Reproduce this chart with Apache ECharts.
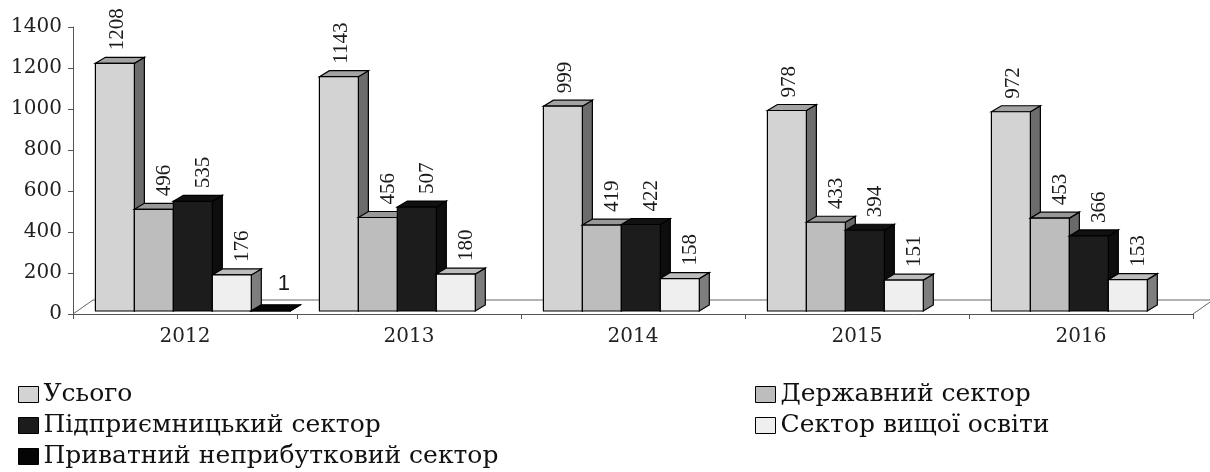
<!DOCTYPE html>
<html>
<head>
<meta charset="utf-8">
<script src="https://cdn.jsdelivr.net/npm/echarts@6/dist/echarts.min.js"></script>
<style>
  html, body { margin: 0; padding: 0; background: #fff; }
  #chart { width: 1210px; height: 472px; }
</style>
</head>
<body>
<div id="chart"></div>
<script>
// categories (years)
var years = ['2012', '2013', '2014', '2015', '2016'];

// series names
var names = ['Усього', 'Державний сектор', 'Підприємницький сектор', 'Сектор вищої освіти', 'Приватний неприбутковий сектор'];

// values
var total = [1208, 1143, 999, 978, 972];
var stateSector = [496, 456, 419, 433, 453];
var businessSector = [535, 507, 422, 394, 366];
var higherEdSector = [176, 180, 158, 151, 153];
var nonProfitSector = [1, null, null, null, null];

// y axis ticks
var yMin = 0, yMax = 1400, yStep = 200;

var allValues = [total, stateSector, businessSector, higherEdSector, nonProfitSector];

// face colours: front / top / side
var faces = [
  ['#d3d3d3', '#a3a3a3', '#6c6c6c'],
  ['#bdbdbd', '#989898', '#6a6a6a'],
  ['#1c1c1c', '#111111', '#0d0d0d'],
  ['#efefef', '#bcbcbc', '#7e7e7e'],
  ['#050505', '#050505', '#050505']
];
var labelShift = [3, 11, 11, 11, 13];

var depthX = 10, depthY = -6; // bar depth
var floorX = 20, floorY = -14; // floor depth

function barRender(k) {
  return function (params, api) {
    var val = api.value(1);
    if (val == null || isNaN(val)) return;
    var idx = api.value(0);
    var base = api.coord([idx, 0]);
    var top = api.coord([idx, val]);
    var band = api.size([1, 0])[0];
    var w = band * 0.174;
    var x0 = base[0] - band / 2 + band * 0.1 + k * w;
    var yb = base[1] - 3;
    var yt = top[1] - 3;
    var c = faces[k];
    var stroke = { stroke: '#000', lineWidth: 1.2 };
    var kids = [
      { type: 'polygon', shape: { points: [[x0 + w, yt], [x0 + w + depthX, yt + depthY], [x0 + w + depthX, yb + depthY], [x0 + w, yb]] },
        style: Object.assign({ fill: c[2] }, stroke) },
      { type: 'polygon', shape: { points: [[x0, yt], [x0 + depthX, yt + depthY], [x0 + w + depthX, yt + depthY], [x0 + w, yt]] },
        style: Object.assign({ fill: c[1] }, stroke) },
      { type: 'rect', shape: { x: x0, y: yt, width: w, height: Math.max(yb - yt, 0) },
        style: Object.assign({ fill: c[0] }, stroke) }
    ];
    var cx = x0 + w / 2 + labelShift[k];
    if (k === 4) {
      kids.push({ type: 'text', x: cx, y: yt - 16,
        style: { text: String(val), font: '22px "Liberation Sans"', fill: '#1a1a1a', align: 'center', verticalAlign: 'bottom' } });
    } else {
      kids.push({ type: 'text', x: cx, y: yt - 13, rotation: Math.PI / 2,
        style: { text: String(val), font: '21px "Liberation Serif"', fill: '#1a1a1a', align: 'left', verticalAlign: 'middle' } });
    }
    return { type: 'group', children: kids };
  };
}

function floorRender(params, api) {
  var cs = params.coordSys;
  var x = cs.x, y = cs.y + cs.height, w = cs.width;
  return {
    type: 'polyline',
    shape: { points: [[x, y], [x + floorX, y + floorY], [x + w + floorX, y + floorY], [x + w, y]] },
    style: { stroke: '#666', lineWidth: 1, fill: null }
  };
}

var series = [{
  type: 'custom',
  renderItem: floorRender,
  data: [[0, 0]],
  silent: true,
  z: 1
}];
allValues.forEach(function (arr, k) {
  series.push({
    name: names[k],
    type: 'custom',
    renderItem: barRender(k),
    data: years.map(function (y, i) { return [i, arr[i]]; }),
    itemStyle: { color: faces[k][0], borderColor: '#000', borderWidth: 1 },
    z: 2
  });
});

var legendText = { fontFamily: 'DejaVu Serif', fontSize: 25, color: '#111', lineHeight: 25 };
var legendCommon = {
  orient: 'vertical',
  icon: 'rect',
  itemWidth: 20,
  itemHeight: 16,
  itemGap: 6,
  padding: 0,
  height: 90,
  selectedMode: false,
  itemStyle: { borderColor: '#000', borderWidth: 1 },
  textStyle: legendText
};

var chart = echarts.init(document.getElementById('chart'));
chart.setOption({
  backgroundColor: '#fff',
  animation: false,
  grid: { left: 73, right: 17, top: 27, bottom: 158 },
  legend: [
    Object.assign({ left: 18, top: 382, data: [names[0], names[2], names[4]] }, legendCommon),
    Object.assign({ left: 755, top: 382, data: [names[1], names[3]] }, legendCommon)
  ],
  xAxis: {
    type: 'category',
    data: years,
    axisLine: { lineStyle: { color: '#555', width: 1 } },
    axisTick: { show: true, length: 5, lineStyle: { color: '#555' } },
    axisLabel: { fontFamily: 'DejaVu Serif', fontSize: 20, color: '#222', margin: 13 },
    splitLine: { show: false }
  },
  yAxis: {
    type: 'value',
    min: yMin,
    max: yMax,
    interval: yStep,
    axisLine: { show: true, lineStyle: { color: '#555', width: 1 } },
    axisTick: { show: true, length: 5, lineStyle: { color: '#555' } },
    axisLabel: { fontFamily: 'DejaVu Serif', fontSize: 20, color: '#222', margin: 11, formatter: function (v) { return String(v); } },
    splitLine: { show: false }
  },
  series: series
});
</script>
</body>
</html>
